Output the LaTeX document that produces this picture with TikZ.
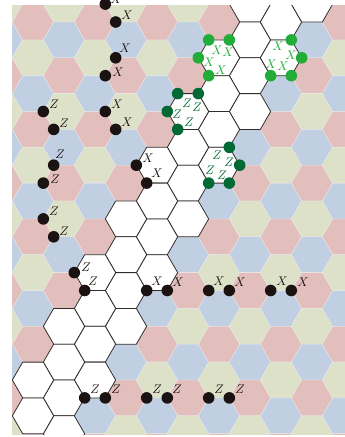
\documentclass[tikz,border=0pt]{standalone}
\definecolor{hc0}{HTML}{E2BFBD}
\definecolor{hc1}{HTML}{DCE1C8}
\definecolor{hc2}{HTML}{C1CFE2}
\definecolor{dotblack}{HTML}{1A1311}
\definecolor{brightg}{HTML}{22AC38}
\definecolor{darkg}{HTML}{006934}
\newcommand{\hexat}[2]{(#1+20.67,#2) -- (#1+10.33,#2+17.9) -- (#1-10.33,#2+17.9) -- (#1-20.67,#2) -- (#1-10.33,#2-17.9) -- (#1+10.33,#2-17.9) -- cycle}
\newcommand{\qsym}[1]{\scalebox{1.25}{$#1$}}
\tikzset{
  x=1pt,y=-1pt,
  tilehex/.style={line width=0.3pt,draw=white!85!gray},
  freehex/.style={fill=white,draw=dotblack!90,line width=0.8pt,line join=round},
  qdot/.style={circle,inner sep=0pt,minimum size=11.6pt,fill=#1,draw=none},
  qlabel/.style={inner sep=0pt,text=#1}
}
\begin{document}
\begin{tikzpicture}
\useasboundingbox (0,0) rectangle (345,437);
\begin{scope}
\clip (12,5) rectangle (345,434);
% coloured tiling
\foreach \i in {-1,...,10}{
  \foreach \j in {0,...,12}{
    \pgfmathtruncatemacro{\odd}{mod(\i+2,2)}
    \pgfmathtruncatemacro{\c}{mod(\j+\odd,3)}
    \pgfmathsetmacro{\cx}{33+31*\i}
    \pgfmathsetmacro{\cy}{22-17.9*\odd+35.8*\j}
    \filldraw[tilehex,fill=hc\c] \hexat{\cx}{\cy};
  }
}
% white patch
\foreach \cx/\cy in {
  250/4.1,250/39.9,250/75.7,250/111.5,
  281/22,281/57.8,312/4.1,
  219/57.8,219/93.6,219/129.4,219/165.2,
  188/111.5,188/147.3,188/183.1,188/218.9,
  157/165.2,157/201,157/236.8,157/272.6,
  126/218.9,126/254.7,126/290.5,126/326.3,
  95/272.6,95/308.4,95/344.2,95/380,
  64/326.3,64/362.1,64/397.9,64/433.7,
  33/380,33/415.8}{
  \filldraw[freehex] \hexat{\cx}{\cy};
}
\end{scope}
% black qubits
\foreach \x/\y [count=\n] in {
  105.3/4.1,115.7/22,115.7/57.8,105.3/75.7,105.3/111.5,115.7/129.4,
  43.3/111.5,53.7/129.4,53.7/165.2,43.3/183.1,43.3/218.9,53.7/236.8,
  74.3/272.6,84.7/290.5,136.3/165.2,146.7/183.1,
  146.7/290.5,167.3/290.5,208.7/290.5,229.3/290.5,270.7/290.5,291.3/290.5,
  84.7/397.9,105.3/397.9,146.7/397.9,167.3/397.9,208.7/397.9,229.3/397.9}{
  \node[qdot=dotblack] (k\n) at (\x,\y) {};
}
% green qubits
\foreach \x/\y [count=\n] in {
  208.7/39.9,229.3/39.9,198.3/57.8,208.7/75.7,
  291.3/39.9,301.7/57.8,291.3/75.7,270.7/75.7}{
  \node[qdot=brightg] (g\n) at (\x,\y) {};
}
\foreach \x/\y [count=\n] in {
  177.7/93.6,198.3/93.6,167.3/111.5,177.7/129.4,
  229.3/147.3,239.7/165.2,229.3/183.1,208.7/183.1}{
  \node[qdot=darkg] (d\n) at (\x,\y) {};
}
% black X labels
\foreach \x/\y [count=\n] in {
  116/-1,127/15,125/48,118/72,117/104,127/122,148/158,157/173,
  157/281,178/282,219/281,240/282,282/281,303/282}{
  \node[qlabel=dotblack] (lx\n) at (\x,\y) {\qsym{X}};
}
% black Z labels
\foreach \x/\y [count=\n] in {
  54/104,64/123,60/154,55/179,54/211,64/231,86/267,93/281,
  95/389,116/389,157/389,177/389,219/389,240/389}{
  \node[qlabel=dotblack] (lz\n) at (\x,\y) {\qsym{Z}};
}
% green labels
\foreach \x/\y [count=\n] in {
  217/50,228/52,209/62,221/70,278/46,291/55,271/64,283/66}{
  \node[qlabel=brightg] (gx\n) at (\x,\y) {\qsym{X}};
}
\foreach \x/\y [count=\n] in {
  187/103,197/107,177/114,189/122,217/155,229/162,210/170,222/175}{
  \node[qlabel=darkg] (gz\n) at (\x,\y) {\qsym{Z}};
}
\end{tikzpicture}
\end{document}
